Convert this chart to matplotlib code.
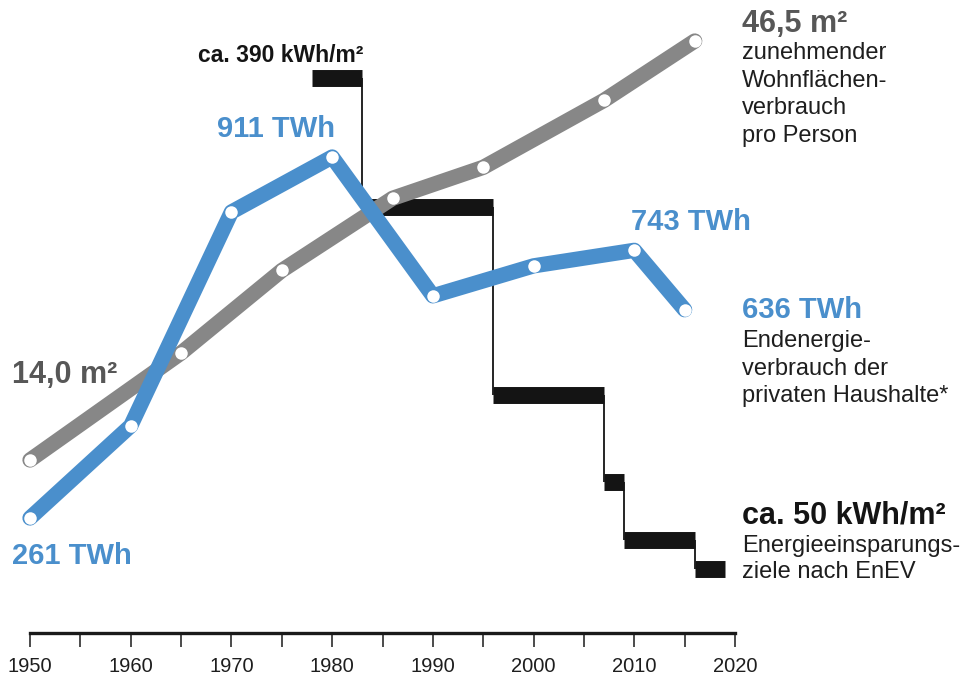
import matplotlib
matplotlib.use("Agg")
import matplotlib.pyplot as plt

# Wohnfläche pro Person (m²)
flaeche_jahre = [1950, 1965, 1975, 1986, 1995, 2007, 2016]
flaeche_m2 = [14.0, 22.3, 28.7, 34.3, 36.7, 41.9, 46.5]

# Endenergieverbrauch private Haushalte (TWh)
energie_jahre = [1950, 1960, 1970, 1980, 1990, 2000, 2010, 2015]
energie_twh = [261, 427, 812, 911, 661, 715, 743, 636]

# Energieeinsparziele (kWh/m²), Stufen
stufe_von = [1978, 1983, 1996, 2007, 2009, 2016]
stufe_bis = [1983, 1996, 2007, 2009, 2016, 2019]
stufe_kwh = [390, 300, 170, 110, 70, 50]

jahre_ticks = list(range(1950, 2021, 5))
jahre_labels = [str(j) if j % 10 == 0 else "" for j in jahre_ticks]

GRAU = "#878787"
GRAU_TXT = "#575757"
BLAU = "#4a8fcc"
SCHWARZ = "#141414"
TXT = "#1e1e1e"

plt.rcParams["font.family"] = ["Liberation Sans", "DejaVu Sans"]

W, H = 965, 675
fig = plt.figure(figsize=(W / 100, H / 100), dpi=100)
fig.patch.set_facecolor("white")

def fx(px):
    return px / W

def fy(py):
    return 1 - py / H

ax = fig.add_axes([fx(30), fy(633), (735 - 30) / W, 633 / H])
ax_g = ax.twinx()
ax_b = ax.twinx()

ax.set_xlim(1950, 2020)
for a in (ax, ax_g, ax_b):
    for s in a.spines.values():
        s.set_visible(False)
    a.set_yticks([])
    a.patch.set_visible(False)

ax.set_ylim(5.34, 443.67)
ax_g.set_ylim(0.581, 49.681)
ax_b.set_ylim(53.93, 1193.7)

# Stufen
ax.hlines(stufe_kwh, stufe_von, stufe_bis, color=SCHWARZ, linewidth=12.2)
for i in range(len(stufe_kwh) - 1):
    ax.vlines(stufe_bis[i], stufe_kwh[i + 1], stufe_kwh[i], color=SCHWARZ, linewidth=1.3)

# Linien
for a, xs, ys, c in [(ax_g, flaeche_jahre, flaeche_m2, GRAU),
                     (ax_b, energie_jahre, energie_twh, BLAU)]:
    a.plot(xs, ys, color=c, linewidth=11, clip_on=False,
           solid_capstyle="round", solid_joinstyle="round",
           marker="o", markersize=9, markerfacecolor="white", markeredgewidth=0)

# x-Achse
ax.spines["bottom"].set_visible(True)
ax.spines["bottom"].set_linewidth(2.4)
ax.spines["bottom"].set_color("#1a1a1a")
ax.set_xticks(jahre_ticks)
ax.set_xticklabels(jahre_labels, fontsize=14.5, color=TXT)
ax.tick_params(axis="x", direction="out", length=10, width=1.1, color="#1a1a1a", pad=7)

def label(px, py, s, size, color, weight="normal", ha="left"):
    fig.text(fx(px), fy(py), s, fontsize=size, color=color, fontweight=weight,
             ha=ha, va="baseline")

TWH = 21
M2 = 22
BODY = 17

label(363, 62, "ca. 390 kWh/m²", 16.5, SCHWARZ, "bold", "right")
label(335, 137, "911 TWh", TWH, BLAU, "bold", "right")
label(631, 230, "743 TWh", TWH, BLAU, "bold")
label(12, 383, "14,0 m²", M2, GRAU_TXT, "bold")
label(12, 564, "261 TWh", TWH, BLAU, "bold")

label(742, 32, "46,5 m²", M2, GRAU_TXT, "bold")
for i, z in enumerate(["zunehmender", "Wohnflächen-", "verbrauch", "pro Person"]):
    label(742, 59 + i * 27.7, z, BODY, TXT)

label(742, 318, "636 TWh", TWH, BLAU, "bold")
for i, z in enumerate(["Endenergie-", "verbrauch der", "privaten Haushalte*"]):
    label(742, 347 + i * 27.7, z, BODY, TXT)

label(742, 523, "ca. 50 kWh/m²", M2, SCHWARZ, "bold")
for i, z in enumerate(["Energieeinsparungs-", "ziele nach EnEV"]):
    label(742, 552 + i * 26, z, BODY, TXT)

fig.savefig("out.png", dpi=100, facecolor="white")
